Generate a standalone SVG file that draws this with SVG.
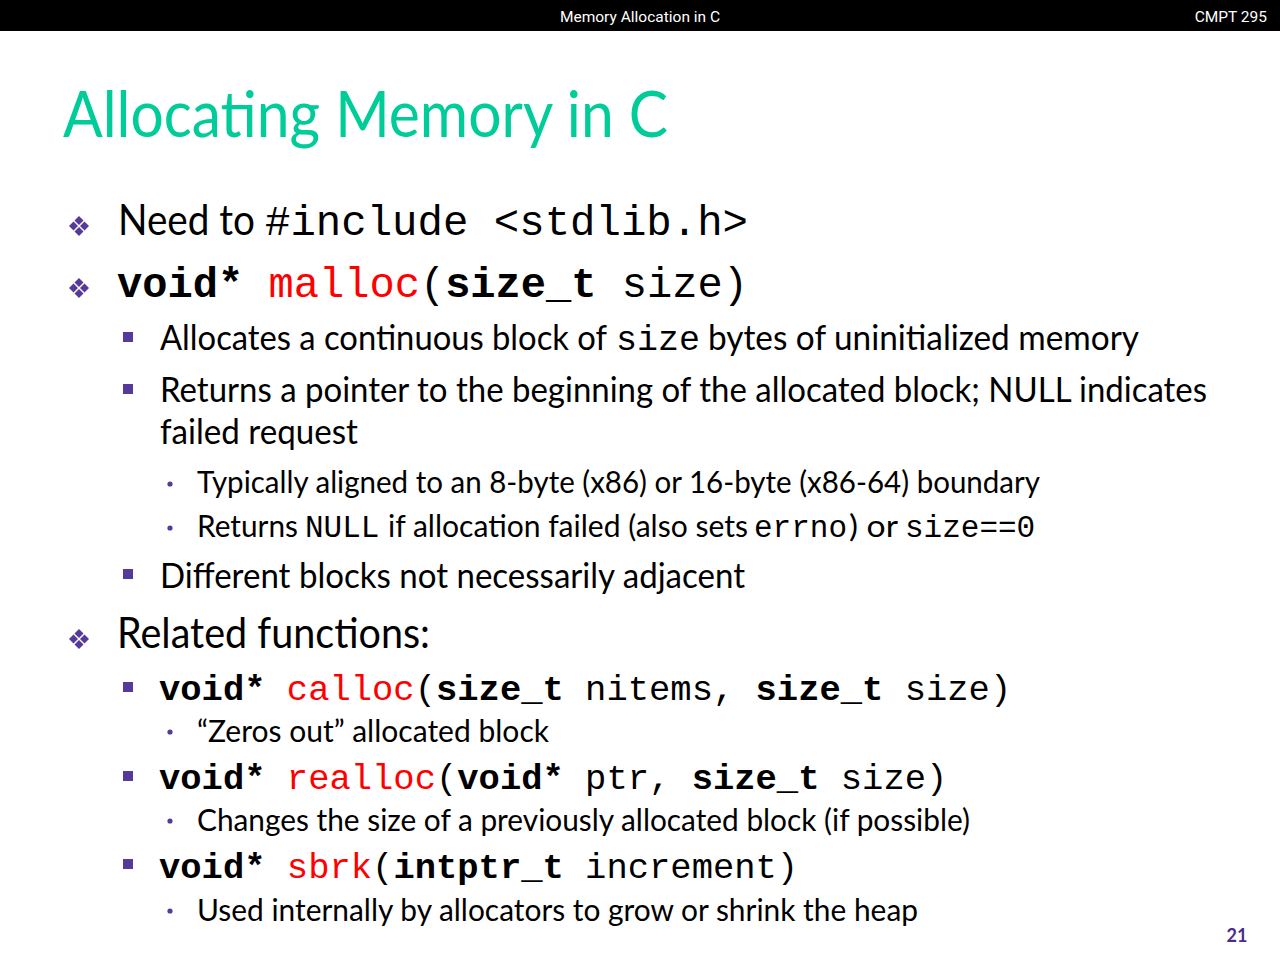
<svg xmlns="http://www.w3.org/2000/svg" xmlns:xlink="http://www.w3.org/1999/xlink" width="1280" height="960" viewBox="0 0 1280 960">
<defs>
<style>
.hdr{font-family:Roboto,"Liberation Sans",sans-serif;font-size:15.5px;fill:#fff}
.title{font-family:Lato,"Open Sans",sans-serif;font-size:64px;fill:#00cc99}
.c{font-family:Lato,"Liberation Sans",sans-serif;fill:#000}
.m{font-family:"Liberation Mono","Courier New",monospace;fill:#000}
.b{font-weight:bold}
.r{fill:#ff0000}
.l1{font-size:42.7px}
.l2{font-size:35.5px}
.l3{font-size:31px}
.pur{fill:#553a9a}
</style>
<g id="dia">
<polygon points="0,-10 4.5,-5.5 0,-1 -4.5,-5.5"/>
<polygon points="0,10 4.5,5.5 0,1 -4.5,5.5"/>
<polygon points="-10,0 -5.5,-4.5 -1,0 -5.5,4.5"/>
<polygon points="10,0 5.5,-4.5 1,0 5.5,4.5"/>
</g>
</defs>
<rect width="1280" height="960" fill="#fff"/>
<g id="header">
<rect x="0" y="0" width="1280" height="31" fill="#000"/>
<text class="hdr" x="640" y="22" text-anchor="middle">Memory Allocation in C</text>
<text class="hdr" x="1267" y="22" text-anchor="end">CMPT 295</text>
</g>
<text class="title" x="63" y="137" textLength="605" lengthAdjust="spacingAndGlyphs">Allocating Memory in C</text>
<g id="bullets" class="pur">
<use xlink:href="#dia" x="79" y="226"/>
<use xlink:href="#dia" x="79" y="288"/>
<use xlink:href="#dia" x="79" y="639"/>
<rect x="123" y="332" width="10" height="10"/>
<rect x="123" y="384" width="10" height="10"/>
<rect x="123" y="569" width="10" height="10"/>
<rect x="123" y="682" width="10" height="10"/>
<rect x="123" y="771" width="10" height="10"/>
<rect x="123" y="859" width="10" height="10"/>
<circle cx="170" cy="484" r="2.6"/>
<circle cx="170" cy="528" r="2.6"/>
<circle cx="170" cy="732" r="2.6"/>
<circle cx="170" cy="821" r="2.6"/>
<circle cx="170" cy="911" r="2.6"/>
</g>
<g id="body">
<text class="c l1" x="118" y="235" textLength="137" lengthAdjust="spacingAndGlyphs">Need to</text>
<text class="m l1" x="265" y="235" textLength="483" lengthAdjust="spacingAndGlyphs">#include &lt;stdlib.h&gt;</text>
<text class="m l1" x="117" y="297" xml:space="preserve" textLength="631" lengthAdjust="spacingAndGlyphs"><tspan class="b">void*</tspan> <tspan class="r">malloc</tspan>(<tspan class="b">size_t</tspan> size)</text>

<text class="c l2" x="160" y="350" textLength="447" lengthAdjust="spacingAndGlyphs">Allocates a continuous block of</text>
<text class="m l2" x="616" y="350" textLength="84" lengthAdjust="spacingAndGlyphs">size</text>
<text class="c l2" x="708" y="350" textLength="431" lengthAdjust="spacingAndGlyphs">bytes of uninitialized memory</text>

<text class="c l2" x="160" y="402" textLength="1047" lengthAdjust="spacingAndGlyphs">Returns a pointer to the beginning of the allocated block; NULL indicates</text>
<text class="c l2" x="160" y="444" textLength="198" lengthAdjust="spacingAndGlyphs">failed request</text>

<text class="c l3" x="197" y="493" textLength="843" lengthAdjust="spacingAndGlyphs">Typically aligned to an 8-byte (x86) or 16-byte (x86-64) boundary</text>

<text class="c l3" x="197" y="537" textLength="101" lengthAdjust="spacingAndGlyphs">Returns</text>
<text class="m l3" x="305" y="537">NULL</text>
<text class="c l3" x="388" y="537" textLength="360" lengthAdjust="spacingAndGlyphs">if allocation failed (also sets</text>
<text class="m l3" x="754" y="537">errno</text>
<text class="c l3" x="849" y="537" textLength="49" lengthAdjust="spacingAndGlyphs">) or</text>
<text class="m l3" x="905" y="537">size==0</text>

<text class="c l2" x="160" y="588" textLength="585" lengthAdjust="spacingAndGlyphs">Different blocks not necessarily adjacent</text>

<text class="c l1" x="117" y="648" textLength="313" lengthAdjust="spacingAndGlyphs">Related functions:</text>

<text class="m l2" x="159" y="700" xml:space="preserve"><tspan class="b">void*</tspan> <tspan class="r">calloc</tspan>(<tspan class="b">size_t</tspan> nitems, <tspan class="b">size_t</tspan> size)</text>
<text class="c l3" x="197" y="742" textLength="352" lengthAdjust="spacingAndGlyphs">“Zeros out” allocated block</text>

<text class="m l2" x="159" y="789" xml:space="preserve"><tspan class="b">void*</tspan> <tspan class="r">realloc</tspan>(<tspan class="b">void*</tspan> ptr, <tspan class="b">size_t</tspan> size)</text>
<text class="c l3" x="197" y="831" textLength="773" lengthAdjust="spacingAndGlyphs">Changes the size of a previously allocated block (if possible)</text>

<text class="m l2" x="159" y="878" xml:space="preserve"><tspan class="b">void*</tspan> <tspan class="r">sbrk</tspan>(<tspan class="b">intptr_t</tspan> increment)</text>
<text class="c l3" x="197" y="921" textLength="721" lengthAdjust="spacingAndGlyphs">Used internally by allocators to grow or shrink the heap</text>
</g>
<text x="1237" y="942" text-anchor="middle" font-family="Lato,'Liberation Sans',sans-serif" font-size="18" font-weight="bold" fill="#4b2c8c">21</text>
</svg>
